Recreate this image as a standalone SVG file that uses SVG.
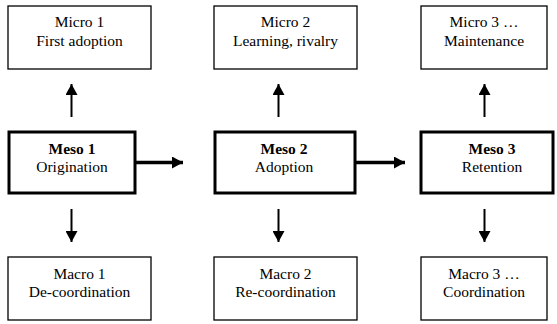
<svg xmlns="http://www.w3.org/2000/svg" width="557" height="324" viewBox="0 0 557 324">
<style>
  .thin { fill: #fff; stroke: #000; stroke-width: 1.3; }
  .thick { fill: #fff; stroke: #000; stroke-width: 3; }
  text { font-family: 'Liberation Serif', 'DejaVu Serif', serif; font-size: 15.5px; fill: #000; text-anchor: middle; }
  .b { font-weight: bold; }
  .conn { stroke: #000; fill: none; }
  .v { stroke-width: 2; }
  .h { stroke-width: 3.5; }
</style>
<defs>
  <marker id="ah" markerUnits="userSpaceOnUse" markerWidth="12" markerHeight="12" refX="11" refY="6" orient="auto">
    <path d="M0,0 L11,6 L0,12 Z" fill="#000"/>
  </marker>
</defs>
<rect width="557" height="324" fill="#fff"/>
<g id="micro1"><rect class="thin" x="8" y="6" width="143" height="63"/><text x="79.5" y="27">Micro 1</text><text x="79.5" y="46">First adoption</text></g>
<g id="micro2"><rect class="thin" x="214" y="6" width="143" height="63"/><text x="285.5" y="27">Micro 2</text><text x="285.5" y="46">Learning, rivalry</text></g>
<g id="micro3"><rect class="thin" x="421" y="6" width="126" height="63"/><text x="484" y="27">Micro 3 …</text><text x="484" y="46">Maintenance</text></g>
<g id="meso1"><rect class="thick" x="9" y="132" width="126" height="61"/><text class="b" x="72" y="154">Meso 1</text><text x="72" y="172">Origination</text></g>
<g id="meso2"><rect class="thick" x="215" y="132" width="140" height="61"/><text class="b" x="284" y="154">Meso 2</text><text x="284" y="172">Adoption</text></g>
<g id="meso3"><rect class="thick" x="421" y="132" width="132" height="61"/><text class="b" x="492" y="154">Meso 3</text><text x="492" y="172">Retention</text></g>
<g id="macro1"><rect class="thin" x="8" y="257" width="143" height="63"/><text x="79.5" y="279">Macro 1</text><text x="79.5" y="297">De-coordination</text></g>
<g id="macro2"><rect class="thin" x="214" y="257" width="143" height="63"/><text x="285.5" y="279">Macro 2</text><text x="285.5" y="297">Re-coordination</text></g>
<g id="macro3"><rect class="thin" x="421" y="257" width="126" height="63"/><text x="484" y="279">Macro 3 …</text><text x="484" y="297">Coordination</text></g>
<g id="connectors">
  <line class="conn v" x1="71.5" y1="117" x2="71.5" y2="84" marker-end="url(#ah)"/>
  <line class="conn v" x1="278.5" y1="117" x2="278.5" y2="84" marker-end="url(#ah)"/>
  <line class="conn v" x1="484.5" y1="117" x2="484.5" y2="84" marker-end="url(#ah)"/>
  <line class="conn v" x1="71.5" y1="209" x2="71.5" y2="242" marker-end="url(#ah)"/>
  <line class="conn v" x1="278.5" y1="209" x2="278.5" y2="242" marker-end="url(#ah)"/>
  <line class="conn v" x1="484.5" y1="209" x2="484.5" y2="242" marker-end="url(#ah)"/>
  <line class="conn h" x1="136" y1="162.5" x2="183" y2="162.5" marker-end="url(#ah)"/>
  <line class="conn h" x1="356" y1="162.5" x2="405" y2="162.5" marker-end="url(#ah)"/>
</g>
</svg>
